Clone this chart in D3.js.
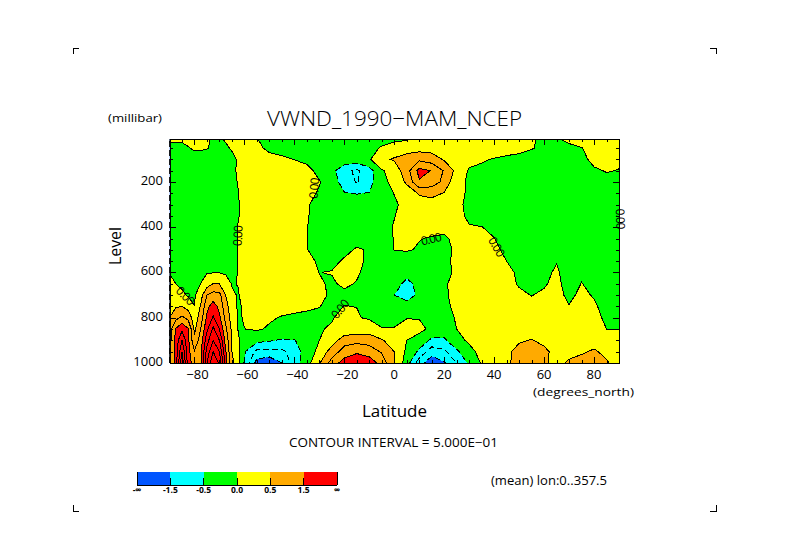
<!DOCTYPE html>
<html>
<head>
<meta charset="utf-8">
<script src="https://cdn.jsdelivr.net/npm/d3@7"></script>
<style>
html, body { margin: 0; padding: 0; background: #fff; }
text { font-family: "Open Sans", "Liberation Sans", sans-serif; font-weight: 400; fill: #000; }
</style>
</head>
<body>
<div id="chart"></div>
<script>
const lats = [-90, -87.5, -85, -82.5, -80, -77.5, -75, -72.5, -70, -67.5, -65, -62.5, -60,
	-55, -50, -45, -40, -35, -30, -25, -20, -15, -10, -5,
	0, 5, 10, 15, 20, 25, 30, 35, 40, 45, 50, 55, 60, 65, 70, 75, 80, 85, 90];
const levels = [10, 50, 100, 150, 200, 250, 300, 350, 400, 450, 500, 550, 600, 650, 700, 750, 800, 850, 900, 950, 1000];

// one row per level
const vwnd = [
	[.05,.05,.05,.05,.05,.05,.02,-.02,-.02,.02,.1,.15,.15, .005,-.05,-.1,-.1,-.1,-.1,-.1,-.1,-.1,-.1,-.1, -.1,-.05,.05,.2,.25,.3,.3,.25,.25,.2,.15,.05,-.1,-.02,.05,.15,.2,.2,.2],
	[-.1,-.1,-.08,-.01,.03,.03,.01,-.03,-.05,-.03,.02,.1,.15, .1,-.1,-.15,-.1,-.1,-.1,-.1,-.1,-.1,-.1,.03, .2,.3,.3,.3,.3,.3,.3,.25,.25,.2,.15,.03,-.1,-.1,-.05,-.01,.1,.15,.15],
	[-.1,-.12,-.12,-.12,-.1,-.1,-.1,-.1,-.1,-.08,-.05,.02,.1, .2,.15,.07,-.01,-.08,-.12,-.15,-.2,-.2,-.05,.4, .55,.7,.9,.75,.45,.25,.15,.05,-.03,-.1,-.15,-.2,-.2,-.2,-.15,-.1,.1,.05,.05],
	[-.15,-.15,-.15,-.15,-.15,-.15,-.15,-.12,-.12,-.1,-.05,.03,.15, .25,.3,.3,.25,.1,-.1,-.35,-.85,-1.1,-.7,-.05, .2,.8,1.65,1.48,.95,.35,-.05,-.1,-.15,-.15,-.15,-.2,-.2,-.2,-.2,-.2,-.05,.02,-.01],
	[-.2,-.2,-.2,-.2,-.2,-.2,-.2,-.15,-.15,-.12,-.05,.01,.1, .25,.3,.3,.25,.1,.02,-.2,-.75,-1.03,-.7,-.05, .05,.6,1.45,1.3,.85,.1,-.05,-.15,-.2,-.2,-.2,-.2,-.2,-.2,-.2,-.2,-.15,-.1,-.1],
	[-.2,-.2,-.2,-.2,-.2,-.2,-.2,-.2,-.15,-.12,-.05,-.005,.05, .25,.3,.3,.25,.08,-.03,-.25,-.47,-.52,-.48,-.25, .01,.18,.55,.6,.48,.1,-.05,-.1,-.15,-.2,-.2,-.2,-.2,-.2,-.22,-.22,-.22,-.22,-.22],
	[-.2,-.2,-.2,-.25,-.25,-.25,-.25,-.25,-.2,-.15,-.05,-.01,.05, .25,.3,.3,.22,.03,-.1,-.3,-.3,-.25,-.2,-.1, -.04,.08,.3,.35,.25,.05,-.05,-.1,-.15,-.2,-.2,-.2,-.22,-.22,-.25,-.25,-.25,-.25,-.25],
	[-.2,-.2,-.2,-.25,-.25,-.25,-.25,-.25,-.2,-.15,-.05,-.01,.05, .22,.28,.3,.22,.02,-.1,-.2,-.2,-.15,-.1,-.05, -.01,.12,.2,.2,.15,.05,-.03,-.08,-.12,-.15,-.2,-.2,-.22,-.25,-.25,-.25,-.25,-.28,-.3],
	[-.2,-.2,-.2,-.22,-.22,-.22,-.22,-.22,-.2,-.15,-.1,.01,.08, .2,.28,.3,.22,.01,-.15,-.2,-.18,-.15,-.1,-.1, .02,.1,.12,.08,.05,.1,.01,.005,-.05,-.12,-.15,-.18,-.2,-.18,-.22,-.22,-.25,-.3,-.3],
	[-.15,-.15,-.15,-.2,-.2,-.2,-.2,-.2,-.15,-.12,-.08,.01,.1, .2,.28,.3,.22,.01,-.12,-.18,-.15,-.12,-.1,-.1, .01,.08,.01,-.02,-.03,.05,.08,.06,.005,-.08,-.12,-.15,-.15,-.12,-.2,-.2,-.25,-.3,-.3],
	[-.12,-.15,-.15,-.18,-.18,-.15,-.15,-.15,-.15,-.12,-.08,.01,.1, .22,.28,.28,.22,.01,-.1,-.15,-.1,.04,-.03,-.15, .01,.03,-.03,-.08,-.05,.03,.06,.07,.05,-.05,-.1,-.12,-.12,-.05,-.16,-.14,-.2,-.3,-.3],
	[-.08,-.15,-.15,-.25,-.3,-.2,-.12,-.1,-.1,-.12,-.1,.02,.15, .25,.3,.28,.25,.1,-.05,-.1,.05,.12,-.1,-.25, -.25,-.2,-.2,-.1,-.02,.02,.08,.08,.09,.0,-.07,-.08,-.08,-.01,-.13,-.08,-.15,-.3,-.3],
	[-.01,-.1,-.2,-.25,-.3,-.1,-.02,-.02,-.02,-.05,-.15,.02,.12, .22,.27,.25,.2,.12,-.005,.02,.15,.06,-.15,-.3, -.3,-.38,-.3,-.1,-.05,.03,.1,.1,.1,.06,-.04,-.06,-.05,.03,-.1,-.03,-.1,-.25,-.25],
	[.1,.0,-.1,-.15,-.15,.005,.25,.52,.5,.2,-.02,.01,.1, .2,.25,.22,.2,.15,.05,-.06,.08,-.03,-.2,-.3, -.35,-.6,-.4,-.08,-.02,.05,.1,.1,.1,.07,-.02,-.04,-.02,.05,-.08,.005,-.05,-.2,-.2],
	[.22,.25,.1,-.05,-.05,.3,1.0,1.2,1.15,.5,.05,-.02,.1, .22,.25,.22,.2,.15,.08,-.05,-.1,-.02,-.15,-.25, -.5,-.75,-.38,-.1,-.03,.06,.1,.12,.12,.12,.04,-.005,.03,.07,-.05,.05,-.02,-.15,-.15],
	[.35,.45,.5,.3,.005,.55,1.35,1.75,1.35,.7,.2,-.05,.05, .15,.18,.15,.12,.07,.01,-.1,.01,-.005,-.15,-.2, -.2,-.25,-.15,-.1,-.05,.05,.12,.15,.15,.17,.12,.05,.07,.12,.01,.1,.04,-.1,-.1],
	[.5,.85,1.1,.85,.2,.75,1.6,2.05,1.6,.85,.3,-.05,.03, .1,.05,-.03,-.08,-.1,-.08,-.02,.08,.03,-.05,-.12, -.1,-.01,-.02,-.2,-.12,.03,.15,.2,.22,.25,.25,.15,.15,.18,.08,.15,.08,-.05,-.05],
	[.7,1.55,1.9,1.55,.4,1.0,1.9,2.6,2.0,1.1,.4,-.02,-.005, .05,-.05,-.1,-.15,-.12,-.02,.03,.12,.2,.25,.02, .02,.1,.12,-.1,-.2,.0,.15,.2,.25,.3,.33,.3,.25,.22,.18,.2,.15,.0,.0],
	[.8,1.65,2.5,1.6,.6,1.25,2.3,3.0,2.5,1.3,.5,.05,-.15, -.35,-.45,-.55,-.52,-.3,.0,.25,.8,.85,.8,.55, .25,.0,-.2,-.6,-.6,-.1,.05,.15,.25,.35,.45,.52,.4,.3,.25,.3,.35,.1,.15],
	[.8,1.7,3.0,1.65,1.05,1.3,2.7,3.5,3.0,1.55,.5,.1,-.45, -1.15,-1.15,-1.1,-.8,-.2,.1,.75,1.2,1.4,1.25,.95, .5,-.1,-.6,-1.3,-1.1,-.6,-.1,.1,.25,.4,.65,.8,.6,.35,.4,.45,.55,.4,.2],
	[.8,1.7,3.4,1.7,1.3,1.3,3.0,4.0,3.4,1.7,.65,.15,-.55, -1.7,-1.9,-1.5,-.75,-.2,.45,1.2,1.75,2.0,1.8,1.3, .5,-.25,-1.3,-1.8,-1.55,-1.0,-.4,.05,.3,.45,.6,.7,.55,.4,.55,.65,.7,.55,.3]
];

const fillLevels = [-1.5, -0.5, 0, 0.5, 1.5];
const fillColors = ["#0055ff", "#00ffff", "#00ff00", "#ffff00", "#ffaa00", "#ff0000"];
const lineLevels = [-1.5, -1, -0.5, 0, 0.5, 1, 1.5, 2, 2.5, 3, 3.5];
const legendLabels = ["-\u221e", "-1.5", "-0.5", "0.0", "0.5", "1.5", "\u221e"];
const latTicks = [-80, -60, -40, -20, 0, 20, 40, 60, 80];
const levelTicks = [200, 400, 600, 800, 1000];

// lat, level, angle of the "0.00" labels on the zero line
const zeroLabels = [
	[-83.6, 704, 45], [-62.6, 437, -87], [-32, 227, -85], [-21.6, 761, -50],
	[14.8, 452, -13], [41, 487, 60], [90.5, 364, 88]
];

const width = 789;
const height = 558;

const svg = d3.select("#chart")
	.append("svg")
	.attr("width", width)
	.attr("height", height)
	.style("display", "block");

const x = d3.scaleLinear().domain([-90, 90]).range([169.5, 619]);
const y = d3.scaleLinear().domain([1000, 10]).range([363, 139]);

// grid index -> data coordinate (the grid is not evenly spaced)
const latOf = d3.scaleLinear().domain(d3.range(lats.length)).range(lats).clamp(true);
const levelOf = d3.scaleLinear().domain(d3.range(levels.length)).range(levels).clamp(true);

const toPlot = d3.geoTransform({
	point: function(i, j) {
		this.stream.point(x(latOf(i - 0.5)), y(levelOf(j - 0.5)));
	}
});
const path = d3.geoPath(toPlot);

const contours = d3.contours().size([lats.length, levels.length]);
const flat = vwnd.flat();

svg.append("clipPath").attr("id", "plot")
	.append("rect")
	.attr("x", x(-90)).attr("y", y(10))
	.attr("width", x(90) - x(-90)).attr("height", y(1000) - y(10));

const plot = svg.append("g").attr("clip-path", "url(#plot)");

plot.append("rect")
	.attr("x", x(-90)).attr("y", y(10))
	.attr("width", x(90) - x(-90)).attr("height", y(1000) - y(10))
	.attr("fill", fillColors[0]);

plot.selectAll("path.band")
	.data(fillLevels)
	.enter()
	.append("path")
	.attr("class", "band")
	.attr("d", function(d) { return path(contours.contour(flat, d)); })
	.attr("fill", function(d, i) { return fillColors[i + 1]; })
	.attr("shape-rendering", "crispEdges");

plot.selectAll("path.line")
	.data(lineLevels)
	.enter()
	.append("path")
	.attr("class", "line")
	.attr("d", function(d) { return path(contours.contour(flat, d)); })
	.attr("fill", "none")
	.attr("stroke", "#000")
	.attr("stroke-width", 1)
	.attr("stroke-dasharray", function(d) { return d < 0 ? "6,3" : null; })
	.attr("shape-rendering", "crispEdges");

svg.selectAll("text.zero")
	.data(zeroLabels)
	.enter()
	.append("text")
	.attr("class", "zero")
	.attr("transform", function(d) { return "translate(" + x(d[0]) + "," + y(d[1]) + ") rotate(" + d[2] + ")"; })
	.attr("text-anchor", "middle")
	.attr("dy", "0.35em")
	.attr("font-size", 12)
	.attr("textLength", 21)
	.text("0.00");

// axes, ticks point inward on all four sides
const latMinor = d3.range(-85, 90, 5);
const levelMinor = d3.range(50, 1000, 50);

function ticks(axis, values, size) {
	return axis.tickValues(values).tickSize(-size).tickFormat("").tickSizeOuter(0);
}

const frame = svg.append("g").attr("shape-rendering", "crispEdges");

frame.append("g").attr("transform", "translate(0," + y(1000) + ")").call(ticks(d3.axisBottom(x), latMinor, 3));
frame.append("g").attr("transform", "translate(0," + y(1000) + ")").call(ticks(d3.axisBottom(x), latTicks, 6));
frame.append("g").attr("transform", "translate(0," + y(10) + ")").call(ticks(d3.axisTop(x), latMinor, 3));
frame.append("g").attr("transform", "translate(0," + y(10) + ")").call(ticks(d3.axisTop(x), latTicks, 6));
frame.append("g").attr("transform", "translate(" + x(-90) + ",0)").call(ticks(d3.axisLeft(y), levelMinor, 3));
frame.append("g").attr("transform", "translate(" + x(-90) + ",0)").call(ticks(d3.axisLeft(y), levelTicks, 6));
frame.append("g").attr("transform", "translate(" + x(90) + ",0)").call(ticks(d3.axisRight(y), levelMinor, 3));
frame.append("g").attr("transform", "translate(" + x(90) + ",0)").call(ticks(d3.axisRight(y), levelTicks, 6));
frame.selectAll("path.domain").attr("stroke", "#000");
frame.selectAll("line").attr("stroke", "#000");

svg.selectAll("text.xt")
	.data(latTicks)
	.enter()
	.append("text")
	.attr("class", "xt")
	.attr("x", function(d) { return x(d) + (d < 0 ? 3 : 0); })
	.attr("y", 379)
	.attr("text-anchor", "middle")
	.attr("font-size", 13)
	.text(function(d) { return d < 0 ? "\u2212" + (-d) : d; });

svg.selectAll("text.yt")
	.data(levelTicks)
	.enter()
	.append("text")
	.attr("class", "yt")
	.attr("x", 163)
	.attr("y", function(d) { return y(d) + 3; })
	.attr("text-anchor", "end")
	.attr("font-size", 13)
	.text(function(d) { return d; });

function label(txt, px, py, size, w, anchor) {
	return svg.append("text")
		.attr("x", px).attr("y", py)
		.attr("font-size", size)
		.attr("text-anchor", anchor || "start")
		.attr("textLength", w)
		.attr("lengthAdjust", "spacingAndGlyphs")
		.text(txt);
}

label("VWND_1990\u2212MAM_NCEP", 267, 126, 21, 255).style("font-weight", 300);
label("(millibar)", 108, 122, 11, 54);
label("(degrees_north)", 533, 396, 11, 101);
label("Latitude", 362, 417, 16, 65);
label("CONTOUR INTERVAL = 5.000E\u221201", 289, 447, 12, 209);
label("(mean) lon:0..357.5", 491, 485, 12, 116);

svg.append("text")
	.attr("transform", "translate(121,246) rotate(-90)")
	.attr("text-anchor", "middle")
	.attr("font-size", 16)
	.attr("textLength", 38)
	.attr("lengthAdjust", "spacingAndGlyphs")
	.text("Level");

// colour bar
const barX = d3.scaleLinear().domain([0, 6]).range([137, 337]);
const bar = svg.append("g").attr("shape-rendering", "crispEdges");

bar.selectAll("rect")
	.data(fillColors)
	.enter()
	.append("rect")
	.attr("x", function(d, i) { return barX(i); })
	.attr("y", 472)
	.attr("width", function(d, i) { return barX(i + 1) - barX(i); })
	.attr("height", 13)
	.attr("fill", function(d) { return d; });

bar.append("line")
	.attr("x1", barX(0)).attr("x2", barX(6))
	.attr("y1", 485).attr("y2", 485)
	.attr("stroke", "#000");

bar.selectAll("line.tick")
	.data(legendLabels)
	.enter()
	.append("line")
	.attr("class", "tick")
	.attr("x1", function(d, i) { return barX(i); })
	.attr("x2", function(d, i) { return barX(i); })
	.attr("y1", function(d, i) { return i === 0 || i === 6 ? 472 : 478; })
	.attr("y2", 485)
	.attr("stroke", "#000");

svg.selectAll("text.leg")
	.data(legendLabels)
	.enter()
	.append("text")
	.attr("class", "leg")
	.attr("x", function(d, i) { return barX(i); })
	.attr("y", 493)
	.attr("text-anchor", "middle")
	.attr("font-size", 8.5)
	.style("font-weight", 700)
	.text(function(d) { return d; });

// crop marks
const marks = [[73, 48, 1, 1], [716, 48, -1, 1], [73, 511, 1, -1], [716, 511, -1, -1]];
svg.selectAll("path.mark")
	.data(marks)
	.enter()
	.append("path")
	.attr("class", "mark")
	.attr("d", function(d) {
		return d3.line()([[d[0] + 6 * d[2], d[1]], [d[0], d[1]], [d[0], d[1] + 6 * d[3]]]);
	})
	.attr("fill", "none")
	.attr("stroke", "#000")
	.attr("shape-rendering", "crispEdges");
</script>
</body>
</html>
